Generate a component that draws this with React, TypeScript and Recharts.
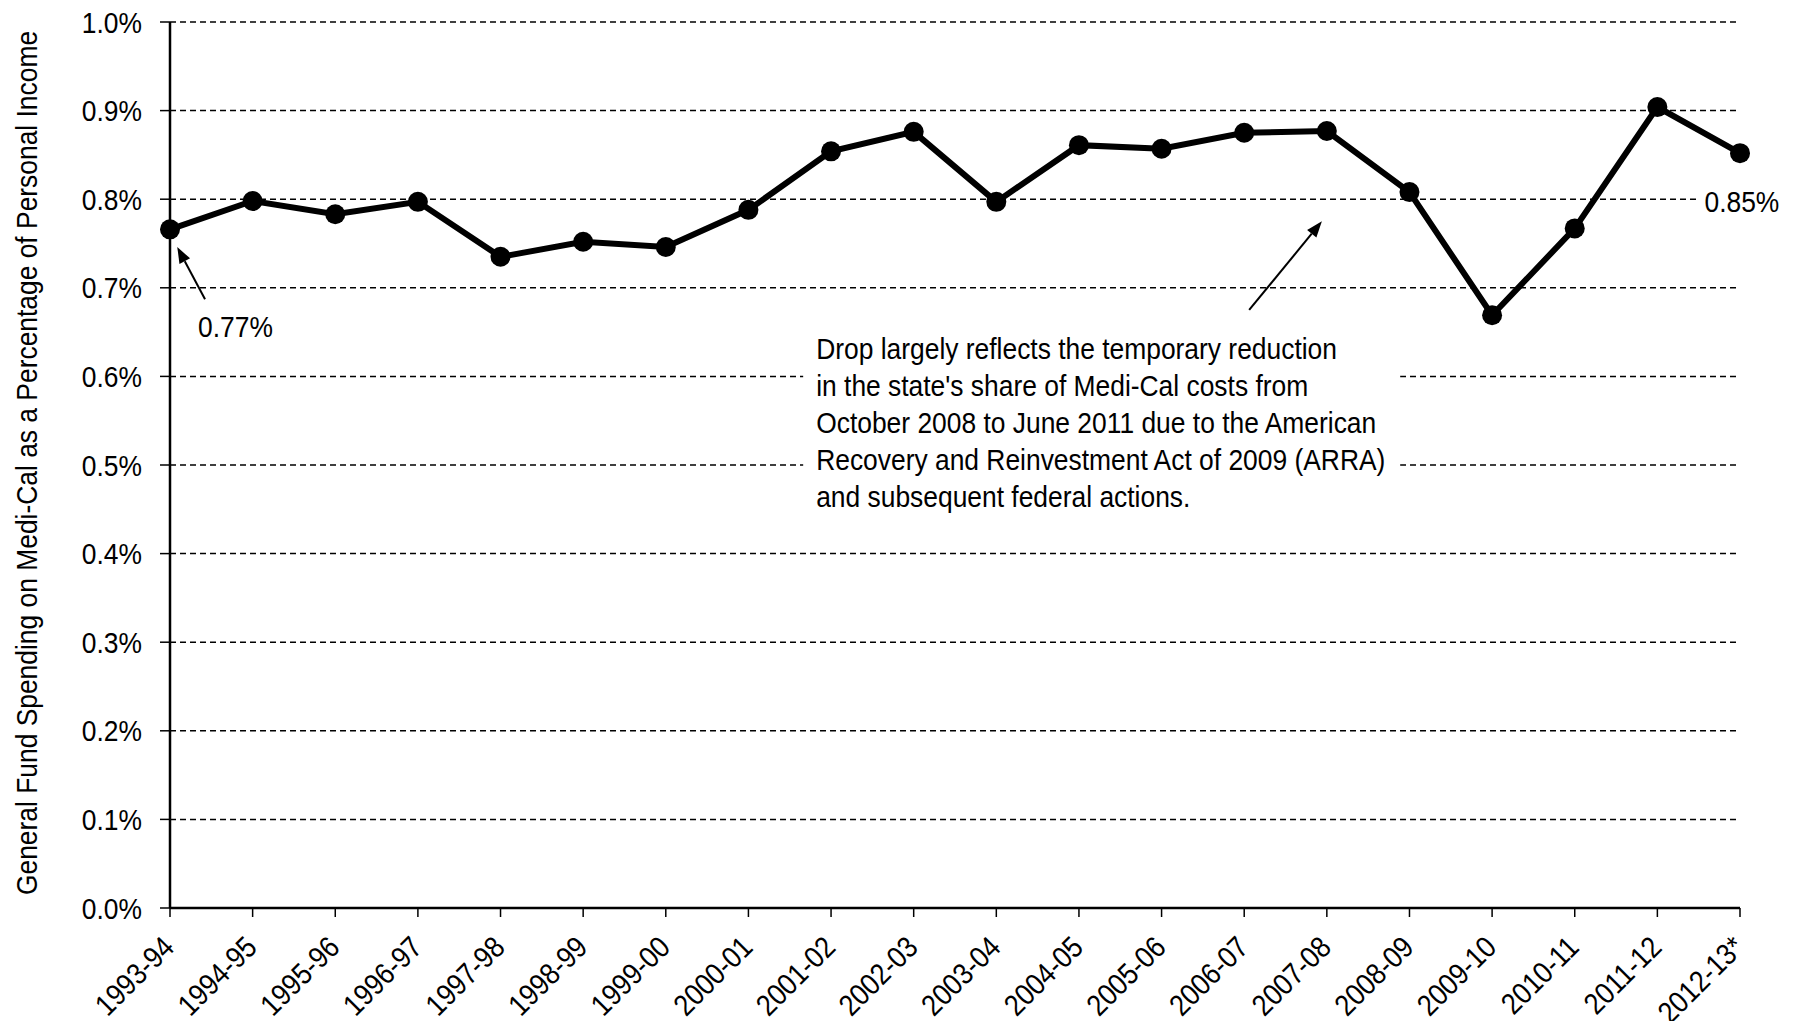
import React from "react";
import {
  LineChart,
  Line,
  XAxis,
  YAxis,
  CartesianGrid,
  Label,
  ReferenceLine,
  ReferenceDot,
} from "recharts";

// no condensed face installed, so squeeze Liberation Sans horizontally
const FONT = "'Liberation Sans', Arial, sans-serif";
const SQUEEZE = 0.88;
const FS = 30;

const years = [
  "1993-94", "1994-95", "1995-96", "1996-97", "1997-98", "1998-99", "1999-00",
  "2000-01", "2001-02", "2002-03", "2003-04", "2004-05", "2005-06", "2006-07",
  "2007-08", "2008-09", "2009-10", "2010-11", "2011-12", "2012-13*",
];

// general fund medi-cal spending, % of personal income
const spending = [
  0.766, 0.798, 0.783, 0.797, 0.735, 0.752, 0.746, 0.788, 0.854, 0.876,
  0.797, 0.861, 0.857, 0.875, 0.877, 0.808, 0.669, 0.767, 0.904, 0.852,
];

const yTicks = [0, 0.1, 0.2, 0.3, 0.4, 0.5, 0.6, 0.7, 0.8, 0.9, 1.0];

const noteLines = [
  "Drop largely reflects the temporary reduction",
  "in the state's share of Medi-Cal costs from",
  "October 2008 to June 2011 due to the American",
  "Recovery and Reinvestment Act of 2009 (ARRA)",
  "and subsequent federal actions.",
];

const data = years.map((year, i) => ({ idx: i, year, value: spending[i] }));
const xTicks = years.map((_, i) => i);

const Narrow = ({ x, y, angle = 0, anchor = "start", dy, size = FS, children }: any) => (
  <text
    transform={`translate(${x} ${y}) rotate(${angle}) scale(${SQUEEZE} 1)`}
    x={0}
    y={0}
    dy={dy}
    textAnchor={anchor}
    fontFamily={FONT}
    fontSize={size}
    fill="#000"
  >
    {children}
  </text>
);

const XTick = ({ x, y, payload }: any) => (
  <Narrow x={x + 6} y={y + 30} angle={-45} anchor="end">
    {years[payload.value]}
  </Narrow>
);

const YTick = ({ x, y, payload }: any) => (
  <Narrow x={x} y={y} anchor="end" dy="0.355em">
    {`${payload.value.toFixed(1)}%`}
  </Narrow>
);

const arrow = (p: any) => {
  const { x1, y1, x2, y2 } = p;
  const a = Math.atan2(y2 - y1, x2 - x1);
  const len = 16;
  const w = 6;
  const bx = x2 - len * Math.cos(a);
  const by = y2 - len * Math.sin(a);
  const pts = [
    `${x2},${y2}`,
    `${bx + w * Math.sin(a)},${by - w * Math.cos(a)}`,
    `${bx - w * Math.sin(a)},${by + w * Math.cos(a)}`,
  ].join(" ");
  return (
    <g>
      <line x1={x1} y1={y1} x2={bx} y2={by} stroke="#000" strokeWidth={2} />
      <polygon points={pts} fill="#000" />
    </g>
  );
};

const startLabel = (p: any) => (
  <Narrow x={p.cx} y={p.cy}>0.77%</Narrow>
);

const endLabel = (p: any) => (
  <g>
    <rect x={p.cx - 7} y={p.cy - 27} width={95} height={36} fill="#fff" />
    <Narrow x={p.cx} y={p.cy}>0.85%</Narrow>
  </g>
);

const noteLabel = (p: any) => (
  <g>
    <rect x={p.cx - 13} y={p.cy - 28} width={597} height={180} fill="#fff" />
    {noteLines.map((line, i) => (
      <Narrow key={i} x={p.cx} y={p.cy + i * 37}>
        {line}
      </Narrow>
    ))}
  </g>
);

const yTitle = (p: any) => {
  const { x, y, height } = p.viewBox;
  return (
    <Narrow x={x + 29} y={y + height / 2 - 2} angle={-90} anchor="middle">
      General Fund Spending on Medi-Cal as a Percentage of Personal Income
    </Narrow>
  );
};

export default function App() {
  return (
    <div style={{ width: 1783, height: 1013, background: "#fff" }}>
      <LineChart
        width={1783}
        height={1013}
        data={data}
        margin={{ top: 14, right: 51, bottom: 0, left: 0 }}
      >
        <CartesianGrid
          horizontal
          vertical={false}
          stroke="#000"
          strokeWidth={1.5}
          strokeDasharray="6 4"
        />
        <XAxis
          dataKey="idx"
          type="number"
          domain={[0, years.length - 1]}
          ticks={xTicks}
          interval={0}
          height={113}
          axisLine={{ stroke: "#000", strokeWidth: 2.5 }}
          tickLine={{ stroke: "#000", strokeWidth: 1.5 }}
          tickSize={9}
          tick={<XTick />}
        />
        <YAxis
          type="number"
          domain={[0, 1]}
          ticks={yTicks}
          width={162}
          axisLine={{ stroke: "#000", strokeWidth: 2.5 }}
          tickLine={{ stroke: "#000", strokeWidth: 1.5 }}
          tickSize={10}
          tickMargin={18}
          tick={<YTick />}
        >
          <Label content={yTitle} />
        </YAxis>
        <ReferenceDot x={7.82} y={0.62} r={0} ifOverflow="visible" shape={noteLabel} />
        <ReferenceDot x={18.57} y={0.785} r={0} ifOverflow="visible" shape={endLabel} />
        <ReferenceDot x={0.34} y={0.644} r={0} ifOverflow="visible" shape={startLabel} />
        <ReferenceLine
          segment={[{ x: 0.424, y: 0.687 }, { x: 0.088, y: 0.746 }]}
          ifOverflow="visible"
          shape={arrow}
        />
        <ReferenceLine
          segment={[{ x: 13.06, y: 0.675 }, { x: 13.94, y: 0.775 }]}
          ifOverflow="visible"
          shape={arrow}
        />
        <Line
          type="linear"
          dataKey="value"
          stroke="#000"
          strokeWidth={6}
          dot={{ r: 10, fill: "#000", stroke: "#000", strokeWidth: 0 }}
          isAnimationActive={false}
        />
      </LineChart>
    </div>
  );
}
